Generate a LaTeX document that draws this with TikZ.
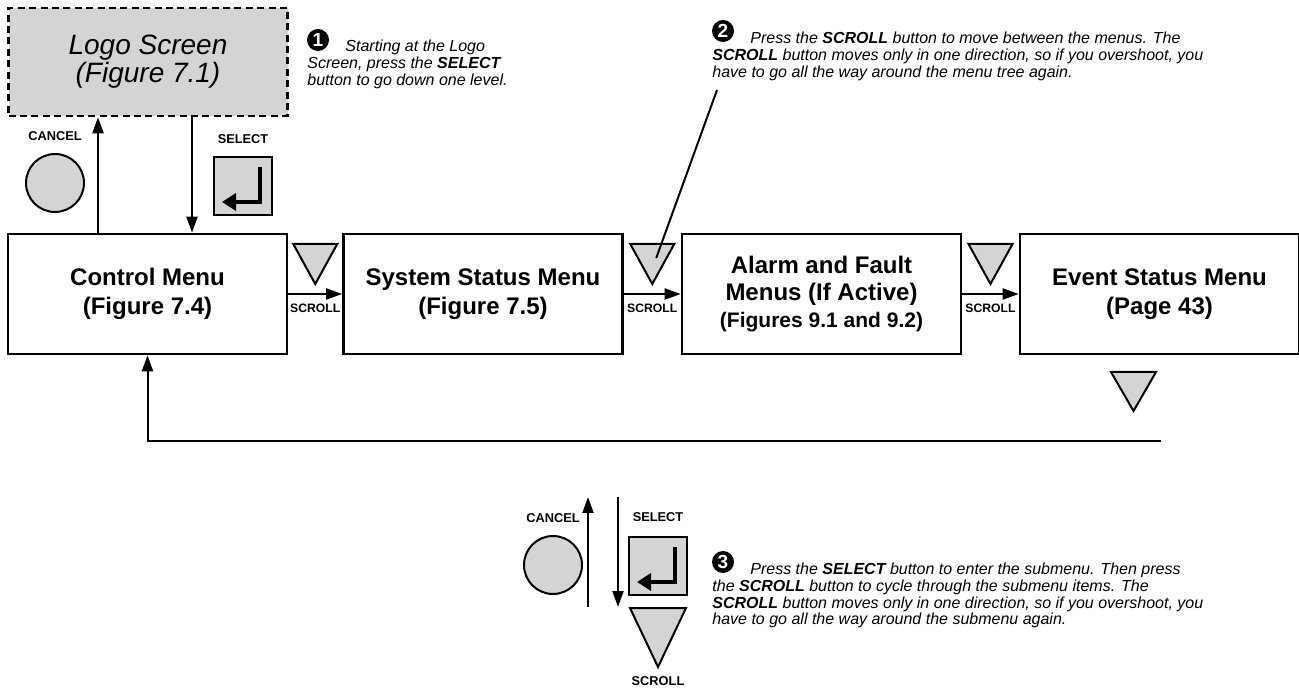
\documentclass[tikz,border=0pt]{standalone}
\usepackage{fontspec}
\setmainfont{Liberation Sans}
\usetikzlibrary{arrows.meta, positioning}
\definecolor{btngray}{RGB}{211,212,214}

\tikzset{
  menubox/.style={draw, line width=1.3pt, minimum width=139.5pt, minimum height=60pt,
    align=center, inner sep=0, font=\fontsize{12}{14.5}\selectfont\bfseries},
  btnfill/.style={draw, line width=1pt, fill=btngray},
  keylabel/.style={inner sep=0, font=\fontsize{6.4}{7}\selectfont\bfseries},
  scrolllabel/.style={inner sep=0, font=\fontsize{6.1}{7}\selectfont\bfseries},
  notetext/.style={align=left, anchor=north west, inner sep=0,
    font=\fontsize{8}{8.3}\selectfont\itshape},
  numdot/.style={circle, fill=black, text=white, inner sep=0, minimum size=11pt,
    font=\fontsize{9.5}{9.5}\selectfont\bfseries},
  flow/.style={line width=1pt, -{Triangle[length=8pt,width=5.5pt]}},
  enterkey/.style={line width=2.4pt, -{Triangle[length=7pt,width=8.5pt]}},
}

\begin{document}
\begin{tikzpicture}[x=0.5pt, y=-0.5pt]
  \useasboundingbox (0,0) rectangle (1299,688);
  % Logo screen
  \node[menubox, minimum height=54pt, fill=btngray, dash pattern=on 3.5pt off 2.2pt,
    font=\fontsize{14}{14}\selectfont\itshape] (logo) at (148,62) {Logo Screen\\(Figure 7.1)};
  % Menu boxes
  \node[menubox] (ctrl) at (147.5,294) {Control Menu\\(Figure 7.4)};
  \node[menubox] (sys) at (483,294) {System Status Menu\\(Figure 7.5)};
  \node[menubox, font=\fontsize{12}{13.5}\selectfont\bfseries] (alarm) at (821.5,294)
    {Alarm and Fault\\Menus (If Active)\\{\fontsize{10.5}{12.5}\selectfont(Figures 9.1 and 9.2)}};
  \node[menubox] (event) at (1159.5,294) {Event Status Menu\\(Page 43)};
  % Scroll between menus
  \foreach \a/\b/\n in {ctrl/sys/1, sys/alarm/2, alarm/event/3} {
    \draw[flow] (\a) -- (\b);
    \path (\a.east) -- (\b.west) coordinate[midway] (gap\n);
    \node[scrolllabel, below=5pt of gap\n] (scroll\n) {SCROLL};
    \filldraw[btnfill] ([shift={(-22,-50)}]gap\n) -- ++(44,0) -- ++(-22,40) -- cycle;
  }
  % Back to the first menu
  \filldraw[btnfill] (1111,372) -- (1156,372) -- (1133.5,411) -- cycle;
  \coordinate (back) at (1161,441);
  \draw[flow] (back) -| (ctrl.south);
  % Cancel and select on top
  \node[btnfill, circle, minimum size=29pt, inner sep=0] (cancel1) at (55,183) {};
  \node[keylabel, above=6pt of cancel1] (cancellbl1) {CANCEL};
  \node[btnfill, minimum size=29pt, inner sep=0] (select1) at (243,186) {};
  \node[keylabel, above=6pt of select1] (selectlbl1) {SELECT};
  \draw[enterkey] ([shift={(17,-19)}]select1.center) -- ++(0,35) -- ++(-38,0);
  \draw[flow] ([shift={(-49.5,0)}]ctrl.north) -- ([shift={(-50,0)}]logo.south);
  \draw[flow] ([shift={(44,0)}]logo.south) -- ([shift={(44.5,0)}]ctrl.north);
  % Notes
  \node[numdot] (dot1) at (318,40) {1};
  \node[notetext] (note1) at (307,40) {\hspace*{19pt}Starting at the Logo\\
    Screen, press the \textbf{SELECT}\\button to go down one level.};
  \node[numdot] (dot2) at (723,31) {2};
  \node[notetext] (note2) at (712,32) {\hspace*{19pt}Press the \textbf{SCROLL} button to move between the menus. The\\
    \textbf{SCROLL} button moves only in one direction, so if you overshoot, you\\
    have to go all the way around the menu tree again.};
  \coordinate (lead2) at (717,90);
  \coordinate (tip2) at ([shift={(4,-36)}]gap2);
  \draw[line width=1pt] (lead2) -- (tip2);
  % Cancel, select and scroll below
  \node[btnfill, circle, minimum size=29pt, inner sep=0] (cancel2) at (553,565) {};
  \node[keylabel, above=6pt of cancel2] (cancellbl2) {CANCEL};
  \node[btnfill, minimum size=29pt, inner sep=0] (select2) at (658,566) {};
  \node[keylabel, above=7pt of select2] (selectlbl2) {SELECT};
  \draw[enterkey] ([shift={(17,-19)}]select2.center) -- ++(0,35) -- ++(-38,0);
  \coordinate (upfoot) at (588,607);
  \coordinate (uptop) at (588,497);
  \draw[flow] (upfoot) -- (uptop);
  \coordinate (downtop) at (618,497);
  \coordinate (downfoot) at (618,607);
  \draw[flow] (downtop) -- (downfoot);
  \filldraw[btnfill] (630,608) -- (686,608) -- (658,667) -- cycle;
  \node[keylabel] (scroll4) at (658,681) {SCROLL};
  \node[numdot] (dot3) at (723,562) {3};
  \node[notetext] (note3) at (712,563) {\hspace*{19pt}Press the \textbf{SELECT} button to enter the submenu. Then press\\
    the \textbf{SCROLL} button to cycle through the submenu items. The\\
    \textbf{SCROLL} button moves only in one direction, so if you overshoot, you\\
    have to go all the way around the submenu again.};
\end{tikzpicture}
\end{document}
